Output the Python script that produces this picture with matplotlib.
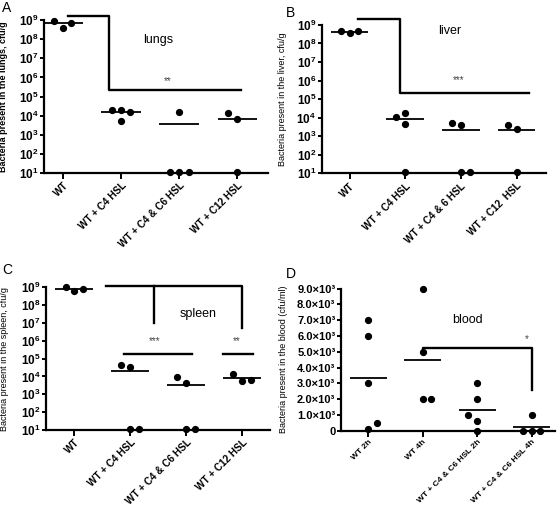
import numpy as np
import matplotlib
matplotlib.use("Agg")
import matplotlib.pyplot as plt

plt.rcParams["font.family"] = ["Liberation Sans", "DejaVu Sans"]
plt.rcParams["mathtext.fontset"] = "custom"
plt.rcParams["mathtext.rm"] = "Liberation Sans"
plt.rcParams["mathtext.bf"] = "Liberation Sans:bold"

# ---- data (cfu/g or cfu/ml) ----
groups_a = ["WT", "WT + C4 HSL", "WT + C4 & C6 HSL", "WT + C12 HSL"]
groups_b = ["WT", "WT + C4 HSL", "WT + C4 & 6 HSL", "WT + C12  HSL"]
groups_c = ["WT", "WT + C4 HSL", "WT + C4 & C6 HSL", "WT + C12 HSL"]
groups_d = ["WT 2h", "WT 4h", "WT + C4 & C6 HSL 2h", "WT + C4 & C6 HSL 4h"]

lungs = [[9.0e8, 4.0e8, 7.0e8],
         [2.1e4, 1.9e4, 1.5e4, 5.5e3],
         [11, 11, 11, 1.5e4],
         [1.35e4, 6.5e3, 12]]
liver = [[4.8e8, 3.6e8, 4.8e8],
         [1.1e4, 1.7e4, 4.5e3, 11],
         [5.0e3, 3.8e3, 11, 11],
         [4.0e3, 2.4e3, 11]]
spleen = [[1.0e9, 6.5e8, 8.5e8],
          [4.5e4, 3.5e4, 11, 11],
          [9.0e3, 4.2e3, 11, 11],
          [1.4e4, 5.3e3, 6.3e3]]
blood = [[7000, 6000, 3000, 500, 100],
         [9000, 5000, 2000, 2000],
         [3000, 2000, 1000, 600, 0],
         [1000, 0, 0, 0]]

# horizontal jitter of the dots within each group
jit_a = [[-0.16, 0, 0.14], [-0.16, 0, 0.16, 0], [-0.16, 0, 0.16, 0], [-0.16, 0, 0]]
jit_b = [[-0.16, 0, 0.16], [-0.16, 0, 0, 0], [-0.16, 0, 0, 0.16], [-0.16, 0, 0]]
jit_c = [[-0.14, 0, 0.17], [-0.16, 0, 0, 0.16], [-0.16, 0, 0, 0.16], [-0.16, 0, 0.16]]
jit_d = [[0, 0, 0, 0.16, 0], [0, 0, 0, 0.16], [0, 0, -0.16, 0, 0], [0, -0.16, 0, 0.16]]

# significance brackets: list of polylines (x, y)
br_a = [[(0.09, 1.7e9), (0.79, 1.7e9), (0.79, 2.2e5), (3.07, 2.2e5)]]
br_b = [[(0.15, 2.2e9), (0.9, 2.2e9), (0.9, 2.2e5), (3.23, 2.2e5)]]
br_c = [[(0.57, 1.2e9), (3.0, 1.2e9), (3.0, 5e6)],
        [(1.43, 1.2e9), (1.43, 1e7)],
        [(0.89, 1.8e5), (2.1, 1.8e5)],
        [(2.67, 1.8e5), (3.2, 1.8e5)]]
br_d = [[(1.0, 5000), (1.0, 5250), (3.0, 5250), (3.0, 2600)]]


def dots(ax, vals, jit):
    for i, (v, j) in enumerate(zip(vals, jit)):
        x = i + np.array(j)
        ax.plot(x, v, "o", color="black", ms=4.2, clip_on=False, zorder=5)
        m = np.mean(v)
        ax.plot([i - 0.34, i + 0.34], [m, m], color="black", lw=1.3,
                clip_on=False, solid_capstyle="butt", zorder=4)


def brackets(ax, lines):
    for ln in lines:
        xs, ys = zip(*ln)
        ax.plot(xs, ys, color="black", lw=1.7, clip_on=False, zorder=3)


def style(ax, groups, xmin, xmax, xfs=7.2):
    for s in ["top", "right"]:
        ax.spines[s].set_visible(False)
    for s in ["left", "bottom"]:
        ax.spines[s].set_linewidth(1.6)
    ax.set_xlim(xmin, xmax)
    ax.set_xticks(range(len(groups)))
    ax.set_xticklabels(groups, rotation=45, ha="right", rotation_mode="anchor",
                       fontsize=xfs, fontweight="bold")
    ax.tick_params(axis="x", length=4, width=1.4, pad=1.5)
    ax.tick_params(axis="y", length=3, width=1.4, pad=1)
    ax.minorticks_off()


def log_axis(ax):
    ax.set_yscale("log")
    ax.set_ylim(10, 1e9)
    ax.set_yticks([10.0 ** k for k in range(1, 10)])
    ax.set_yticklabels([r"$\mathbf{10^{%d}}$" % k for k in range(1, 10)], fontsize=8.5)
    ax.minorticks_off()


fig = plt.figure(figsize=(5.6, 5.08), dpi=100)
axA = fig.add_axes([0.0786, 0.6594, 0.400, 0.301])
axB = fig.add_axes([0.5745, 0.659, 0.4005, 0.292])
axC = fig.add_axes([0.082, 0.1535, 0.400, 0.281])
axD = fig.add_axes([0.609, 0.152, 0.382, 0.280])

# A - lungs
log_axis(axA)
dots(axA, lungs, jit_a)
brackets(axA, br_a)
style(axA, groups_a, -0.33, 3.53)
axA.text(1.64, 10 ** 7.96, "lungs", fontsize=9, ha="center", va="center")
axA.text(1.81, 10 ** 5.8, "**", fontsize=7, color="#444444", ha="center", va="center")
axA.set_ylabel("Bacteria present in the lungs, cfu/g", fontsize=6.5, fontweight="bold")
axA.yaxis.set_label_coords(-0.16, 0.5)

# B - liver
log_axis(axB)
dots(axB, liver, jit_b)
brackets(axB, br_b)
style(axB, groups_b, -0.5, 3.53)
axB.text(1.8, 10 ** 8.65, "liver", fontsize=9, ha="center", va="center")
axB.text(1.96, 10 ** 6.0, "***", fontsize=7, color="#444444", ha="center", va="center")
axB.set_ylabel("Bacteria present in the liver, cfu/g", fontsize=6.5)
axB.yaxis.set_label_coords(-0.155, 0.5)

# C - spleen
log_axis(axC)
dots(axC, spleen, jit_c)
brackets(axC, br_c)
style(axC, groups_c, -0.5, 3.5)
axC.text(2.22, 10 ** 7.5, "spleen", fontsize=9, ha="center", va="center")
axC.text(1.45, 10 ** 6.0, "***", fontsize=7, color="#444444", ha="center", va="center")
axC.text(2.9, 10 ** 6.0, "**", fontsize=7, color="#444444", ha="center", va="center")
axC.set_ylabel("Bacteria present in the spleen, cfu/g", fontsize=6.5)
axC.yaxis.set_label_coords(-0.165, 0.5)

# D - blood
dots(axD, blood, jit_d)
brackets(axD, br_d)
axD.set_ylim(0, 9000)
yt = np.arange(0, 9001, 1000)
axD.set_yticks(yt)
axD.set_yticklabels(["0"] + ["%.1f\u00d710\u00b3" % (v / 1000) for v in yt[1:]],
                    fontsize=8, fontweight="bold")
style(axD, groups_d, -0.5, 3.43, xfs=6)
axD.text(1.82, 7000, "blood", fontsize=9, ha="center", va="center")
axD.text(2.91, 5800, "*", fontsize=7, color="#444444", ha="center", va="center")
axD.set_ylabel("Bacteria present in the blood (cfu/ml)", fontsize=6.5)
axD.yaxis.set_label_coords(-0.25, 0.5)

for lab, (x, y) in zip("ABCD", [(0.004, 0.985), (0.51, 0.975), (0.004, 0.468), (0.51, 0.46)]):
    fig.text(x, y, lab, fontsize=10, ha="left", va="center")

fig.savefig("out.png", dpi=100)
